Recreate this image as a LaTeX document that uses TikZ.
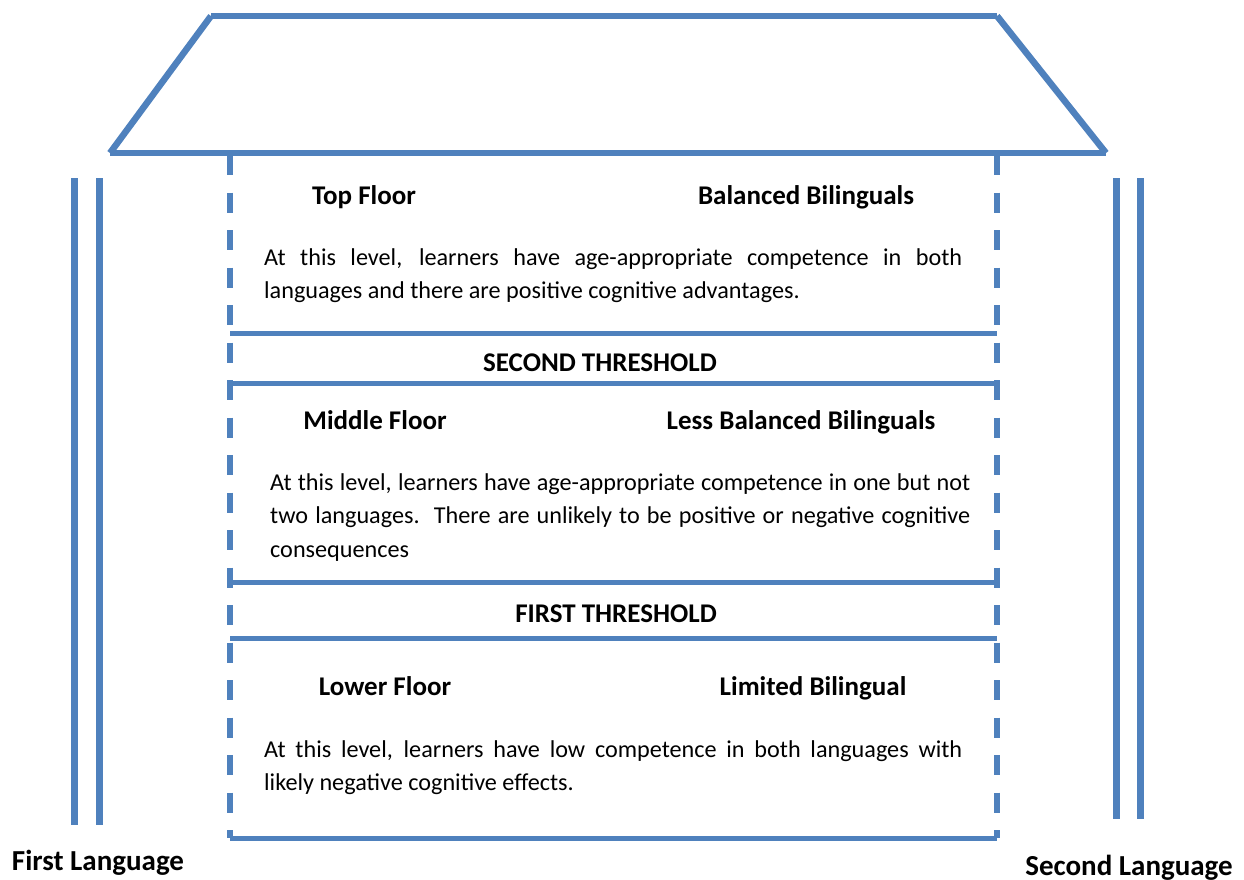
\documentclass[tikz,border=0pt]{standalone}
\usepackage{fontspec}
\setmainfont{Carlito}
\definecolor{housblue}{HTML}{4F81BD}
\begin{document}
\begin{tikzpicture}[x=1pt,y=-1pt,
  roofline/.style={draw=housblue,line width=6.5pt},
  floorline/.style={draw=housblue,line width=5pt},
  pillar/.style={draw=housblue,line width=7pt},
  sidewall/.style={draw=housblue,line width=6pt,dash pattern=on 20pt off 17.5pt},
  heading/.style={font=\fontsize{27}{31}\selectfont\bfseries,anchor=base,inner sep=0pt},
  body/.style={font=\fontsize{24.2}{33.5}\selectfont,align=justify,anchor=base west,inner sep=0pt},
  langlabel/.style={font=\fontsize{29}{34}\selectfont\bfseries,anchor=base,inner sep=0pt}]
\useasboundingbox (0,0) rectangle (1244,880);

% roof corners
\coordinate (rTL) at (211,16);
\coordinate (rTR) at (997,16);
\coordinate (rBL) at (110,153);
\coordinate (rBR) at (1106,153);

% dashed side walls of the floors
\coordinate (wLt) at (230,155);
\coordinate (wLb) at (230,838);
\coordinate (wRt) at (997,155);
\coordinate (wRb) at (997,838);

% floor boundaries
\coordinate (f1L) at (230,333); \coordinate (f1R) at (997,333);
\coordinate (f2L) at (230,383); \coordinate (f2R) at (997,383);
\coordinate (f3L) at (230,582); \coordinate (f3R) at (997,582);
\coordinate (f4L) at (230,638); \coordinate (f4R) at (997,638);
\coordinate (f5L) at (230,838); \coordinate (f5R) at (997,838);

% language pillars
\coordinate (pL1t) at (74,178);   \coordinate (pL1b) at (74,825);
\coordinate (pL2t) at (99,178);   \coordinate (pL2b) at (99,825);
\coordinate (pR1t) at (1116,178); \coordinate (pR1b) at (1116,819);
\coordinate (pR2t) at (1140,178); \coordinate (pR2b) at (1140,819);

% pillars
\draw[pillar] (pL1t) -- (pL1b);
\draw[pillar] (pL2t) -- (pL2b);
\draw[pillar] (pR1t) -- (pR1b);
\draw[pillar] (pR2t) -- (pR2b);

% walls
\draw[sidewall] (wLt) -- (wLb);
\draw[sidewall] (wRt) -- (wRb);

% floors
\draw[floorline] (f1L) -- (f1R);
\draw[floorline] (f2L) -- (f2R);
\draw[floorline] (f3L) -- (f3R);
\draw[floorline] (f4L) -- (f4R);
\draw[floorline] (f5L) -- (f5R);

% roof
\draw[roofline] (rBL) -- (rTL);
\draw[roofline] (rTL) -- (rTR);
\draw[roofline] (rTR) -- (rBR);
\draw[roofline] (rBL) -- (rBR);

% top floor
\node[heading] (topname) at (364,204) {Top Floor};
\node[heading] (topkind) at (806,204) {Balanced Bilinguals};
\node[body,text width=698pt] (toptext) at (264,265)
  {At this level, learners have age-appropriate competence in both\linebreak
   languages and there are positive cognitive advantages.};

\node[heading] (second) at (600,371) {SECOND THRESHOLD};

% middle floor
\node[heading] (midname) at (375,429) {Middle Floor};
\node[heading] (midkind) at (801,429) {Less Balanced Bilinguals};
\node[body,text width=700pt] (midtext) at (270,490)
  {At this level, learners have age-appropriate competence in one but not\linebreak
   two languages.\ \ There are unlikely to be positive or negative cognitive\linebreak
   consequences};

\node[heading] (first) at (616,622) {FIRST THRESHOLD};

% lower floor
\node[heading] (lowname) at (385,695) {Lower Floor};
\node[heading] (lowkind) at (813,695) {Limited Bilingual};
\node[body,text width=698pt] (lowtext) at (264,757)
  {At this level, learners have low competence in both languages with\linebreak
   likely negative cognitive effects.};

% pillar labels
\node[langlabel] (lang1) at (98,870) {First Language};
\node[langlabel] (lang2) at (1129,875) {Second Language};
\end{tikzpicture}
\end{document}
